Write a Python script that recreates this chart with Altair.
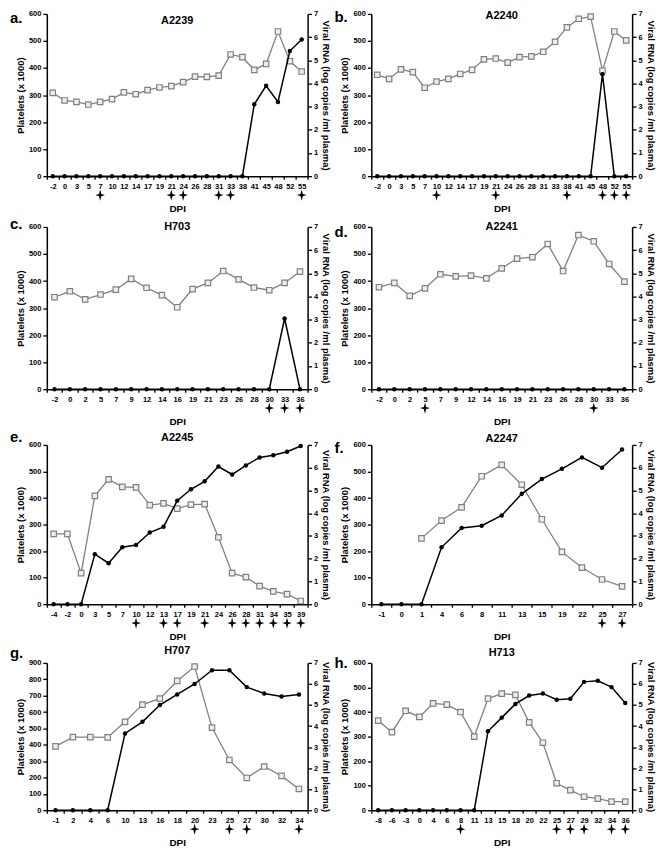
import altair as alt
import pandas as pd

# ---------------- data ----------------
a_dpi = ["-2", "0", "3", "5", "7", "10", "12", "14", "17", "19", "21", "24", "26", "28", "31", "33", "38", "41", "45", "48", "52", "55"]
a_plt = [308, 280, 275, 265, 275, 285, 310, 303, 318, 328, 333, 348, 368, 367, 372, 450, 440, 393, 415, 535, 425, 387]
a_rna = [0, 0, 0, 0, 0, 0, 0, 0, 0, 0, 0, 0, 0, 0, 0, 0, 0, 3.1, 3.9, 3.2, 5.4, 5.9]
a_cross = ["7", "21", "24", "31", "33", "55"]

b_dpi = ["-2", "0", "3", "5", "7", "10", "12", "14", "17", "19", "21", "24", "26", "28", "31", "33", "38", "41", "45", "48", "52", "55"]
b_plt = [375, 360, 395, 385, 327, 350, 360, 378, 393, 432, 435, 420, 440, 443, 460, 497, 550, 582, 590, 390, 535, 502]
b_rna = [0, 0, 0, 0, 0, 0, 0, 0, 0, 0, 0, 0, 0, 0, 0, 0, 0, 0, 0, 4.4, 0, 0]
b_cross = ["10", "21", "38", "48", "52", "55"]

c_dpi = ["-2", "0", "2", "5", "7", "9", "12", "14", "16", "19", "21", "23", "26", "28", "30", "33", "36"]
c_plt = [340, 362, 332, 350, 368, 408, 375, 348, 303, 370, 393, 437, 406, 376, 366, 393, 435]
c_rna = [0, 0, 0, 0, 0, 0, 0, 0, 0, 0, 0, 0, 0, 0, 0, 3.05, 0]
c_cross = ["30", "33", "36"]

d_dpi = ["-2", "0", "2", "5", "7", "9", "12", "14", "16", "19", "21", "23", "26", "28", "30", "33", "36"]
d_plt = [377, 393, 345, 373, 425, 417, 420, 410, 447, 483, 488, 537, 437, 570, 547, 463, 398]
d_rna = [0, 0, 0, 0, 0, 0, 0, 0, 0, 0, 0, 0, 0, 0, 0, 0, 0]
d_cross = ["5", "30"]

e_dpi = ["-4", "-2", "0", "3", "5", "7", "10", "12", "13", "17", "19", "21", "24", "26", "28", "31", "34", "35", "39"]
e_plt = [265, 265, 117, 408, 470, 442, 440, 373, 380, 360, 375, 377, 252, 117, 102, 68, 48, 38, 12]
e_rna = [0, 0, 0, 2.2, 1.8, 2.5, 2.6, 3.15, 3.4, 4.55, 5.05, 5.4, 6.05, 5.7, 6.1, 6.45, 6.55, 6.7, 6.95]
e_cross = ["10", "13", "17", "21", "26", "28", "31", "34", "35", "39"]

f_dpi = ["-1", "0", "1", "4", "6", "8", "11", "13", "15", "19", "22", "25", "27"]
f_plt = [None, None, 248, 315, 365, 482, 525, 450, 320, 197, 138, 93, 67]
f_rna = [0, 0, 0, 2.5, 3.35, 3.45, 3.9, 4.85, 5.5, 5.95, 6.45, 6.0, 6.8]
f_cross = ["25", "27"]

g_dpi = ["-1", "2", "4", "6", "10", "13", "16", "18", "20", "23", "25", "27", "30", "32", "34"]
g_plt = [390, 447, 447, 445, 540, 645, 682, 790, 878, 505, 307, 197, 267, 210, 130]
g_rna = [0, 0, 0, 0, 3.65, 4.2, 5.0, 5.5, 6.0, 6.65, 6.65, 5.85, 5.55, 5.4, 5.5]
g_cross = ["20", "25", "27", "34"]

h_dpi = ["-8", "-6", "-3", "0", "4", "6", "8", "11", "13", "15", "18", "20", "22", "25", "27", "29", "32", "34", "36"]
h_plt = [365, 318, 405, 380, 435, 430, 400, 300, 455, 475, 470, 358, 275, 110, 82, 55, 47, 35, 35]
h_rna = [0, 0, 0, 0, 0, 0, 0, 0, 3.75, 4.4, 5.05, 5.45, 5.55, 5.25, 5.3, 6.1, 6.15, 5.85, 5.1]
h_cross = ["8", "25", "27", "29", "34", "36"]

# letter, name, dpi, platelets, rna, crosses, y max, plot height, name offset, letter offset
panels_spec = [
    ("a.", "A2239", a_dpi, a_plt, a_rna, a_cross, 600, 163, 7, 4),
    ("b.", "A2240", b_dpi, b_plt, b_rna, b_cross, 600, 163, 2, 3),
    ("c.", "H703", c_dpi, c_plt, c_rna, c_cross, 600, 163, 0, -3),
    ("d.", "A2241", d_dpi, d_plt, d_rna, d_cross, 600, 163, 0, 5),
    ("e.", "A2245", e_dpi, e_plt, e_rna, e_cross, 600, 160, -7, -8),
    ("f.", "A2247", f_dpi, f_plt, f_rna, f_cross, 600, 160, -6, 3),
    ("g.", "H707", g_dpi, g_plt, g_rna, g_cross, 900, 148, -12, -10),
    ("h.", "H713", h_dpi, h_plt, h_rna, h_cross, 600, 148, -10, 0),
]

FONT = "Liberation Sans"
GRAY = "#808080"
STAR = "M0,-1 L0.2,-0.2 L0.85,0 L0.2,0.2 L0,1 L-0.2,0.2 L-0.85,0 L-0.2,-0.2 Z"
W = 262


def panel(letter, name, dpi, plt_vals, rna_vals, crosses, ymax, h, name_off, letter_off):
    df = pd.DataFrame({"dpi": dpi, "plt": plt_vals, "rna": rna_vals})
    cdf = pd.DataFrame({"dpi": crosses})
    xenc = alt.X(
        "dpi:O",
        sort=dpi,
        scale=alt.Scale(domain=dpi, type="band", paddingInner=0, paddingOuter=0),
        axis=alt.Axis(title="DPI", tickBand="extent", labelAngle=0, titlePadding=14,
                      tickSize=3, labelPadding=3, titleFontSize=10),
    )
    plat = alt.Chart(df).mark_line(
        color=GRAY, strokeWidth=1.3,
        point=alt.OverlayMarkDef(shape="square", filled=True, fill="#eeeeee",
                                 stroke=GRAY, strokeWidth=1.2, size=30, opacity=1),
    ).encode(
        x=xenc,
        y=alt.Y("plt:Q", scale=alt.Scale(domain=[0, ymax], nice=False),
                axis=alt.Axis(values=list(range(0, ymax + 1, 100)), orient="left",
                              title="Platelets (x 1000)")),
    )
    rna = alt.Chart(df).mark_line(
        color="black", strokeWidth=1.5,
        point=alt.OverlayMarkDef(filled=True, color="black", size=20, opacity=1),
    ).encode(
        x=xenc,
        y=alt.Y("rna:Q", scale=alt.Scale(domain=[0, 7], nice=False),
                axis=alt.Axis(values=list(range(8)), orient="right",
                              title="Viral RNA (log copies /ml plasma)")),
    )
    stars = alt.Chart(cdf).mark_point(
        shape=STAR, filled=True, color="black", size=130, opacity=1
    ).encode(x=xenc, y=alt.value(h + 19))
    txt = alt.Chart(pd.DataFrame({"t": [name]})).mark_text(
        font=FONT, fontWeight="bold", fontSize=11, baseline="middle"
    ).encode(text="t:N", x=alt.value(W / 2), y=alt.value(name_off))
    let = alt.Chart(pd.DataFrame({"t": [letter]})).mark_text(
        font=FONT, fontWeight="bold", fontSize=15, align="left", baseline="middle"
    ).encode(text="t:N", x=alt.value(-37), y=alt.value(letter_off))
    return alt.layer(plat, rna, stars, txt, let).resolve_scale(y="independent").properties(
        width=W, height=h
    )


charts = [panel(*p) for p in panels_spec]

chart = alt.concat(*charts, columns=2, spacing=3).properties(
    padding={"left": 2, "top": 0, "right": 0, "bottom": 0}
).configure_view(stroke=None).configure_axis(
    domainColor="black", domainWidth=1.5, tickColor="black", tickWidth=1.3,
    labelFont=FONT, labelFontWeight="bold", labelFontSize=7.5, labelColor="black",
    titleFont=FONT, titleFontWeight="bold", titleFontSize=9.5, titleColor="black",
    grid=False, tickSize=4, labelPadding=2, titlePadding=3,
).configure_concat(spacing=3)

chart.save("out.html", embed_options={"renderer": "svg", "actions": False})
